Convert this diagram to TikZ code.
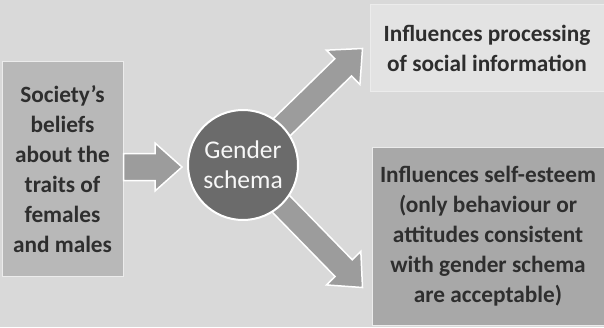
\documentclass[tikz,border=0pt]{standalone}
\usepackage{fontspec}
\setmainfont{Carlito}
\usetikzlibrary{calc}

\definecolor{paper}{gray}{0.85}
\definecolor{lightbox}{gray}{0.89}
\definecolor{midbox}{gray}{0.72}
\definecolor{darkbox}{gray}{0.66}
\definecolor{arrowgray}{gray}{0.61}
\definecolor{circlegray}{gray}{0.42}
\definecolor{inkgray}{gray}{0.18}

% 太い矢印: #1 根元, #2 先端, #3 軸の半幅
\newcommand\fatarrow[3]{%
  \coordinate (fa base) at ($(#2)!27pt!(#1)$);
  \filldraw[arrowbody]
    ($(#1)!#3!90:(#2)$) -- ($(fa base)!#3!90:(#2)$)
    -- ($(fa base)!24pt!90:(#2)$) -- (#2)
    -- ($(fa base)!24pt!-90:(#2)$) -- ($(fa base)!#3!-90:(#2)$)
    -- ($(#1)!#3!-90:(#2)$) -- cycle;
}

\begin{document}
\begin{tikzpicture}[x=1pt, y=1pt,
    every node/.style={font=\fontsize{23.3}{30}\selectfont\bfseries, text=inkgray, align=center},
    box/.style={draw=white!85!gray, line width=1pt, inner sep=0pt},
    arrowbody/.style={fill=arrowgray, draw=white, line width=1.5pt, line join=miter}]
  \useasboundingbox (0, 0) rectangle (604, 327);
  \fill[paper] (0, 0) rectangle (604, 327);

  % 1. 左の箱
  \node[box, fill=midbox, minimum width=121, minimum height=214] (beliefs) at (62.5, 158)
    {Society's\\beliefs\\about the\\traits of\\females\\and males};

  % 2. 右の箱
  \node[box, fill=lightbox, minimum width=234, minimum height=87] (processing) at (487, 278.5)
    {Influences processing\\of social information};
  \node[box, fill=darkbox, minimum width=232, minimum height=178] (esteem) at (488, 91)
    {Influences self-esteem\\(only behaviour or\\attitudes consistent\\with gender schema\\are acceptable)};

  % 3. 中央の円 (位置だけ先に)
  \coordinate (schemac) at (243, 162);
  \coordinate (intip) at (182, 160);
  \coordinate (uptip) at ($(processing.west)+(-7, 0)$);
  \coordinate (downtip) at ($(esteem.south west)+(-9, 38)$);

  % 矢印
  \fatarrow{beliefs.east |- intip}{intip}{13.5pt}
  \fatarrow{schemac}{uptip}{12pt}
  \fatarrow{schemac}{downtip}{12pt}

  \node[circle, fill=circlegray, draw=white, line width=2pt, minimum size=110,
        inner sep=0pt, text=white!94!gray, font=\fontsize{25.5}{30}\selectfont] (schema)
    at (schemac) {Gender\\schema};
\end{tikzpicture}
\end{document}
